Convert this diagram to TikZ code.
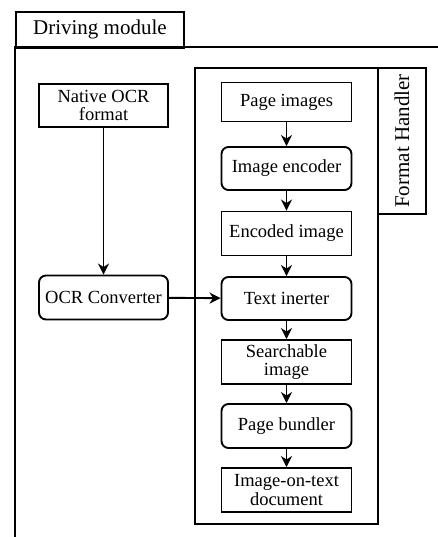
\documentclass[tikz,border=0pt]{standalone}
\usepackage{fontspec}
\setmainfont{Liberation Serif}
\usetikzlibrary{arrows.meta}
\begin{document}
\begin{tikzpicture}[x=1pt,y=-1pt,line width=1.9pt,
  boxstyle/.style={draw,rectangle,minimum width=130pt,minimum height=43pt,inner sep=1pt,align=center,font=\fontsize{18.5}{18.5}\selectfont},
  roundstyle/.style={boxstyle,rounded corners=7pt},
  arr/.style={-{Stealth[length=11pt,width=11pt,inset=3.5pt]}}]
\useasboundingbox (0,0) rectangle (438,537);
% driving module frame
\draw (15,537) -- (15,47) -- (438,47);
\node[draw,rectangle,minimum width=168pt,minimum height=36pt,anchor=north west,inner sep=0pt,font=\fontsize{21}{22}\selectfont] (drv) at (15,11) {Driving module};
% format handler
\node[draw,rectangle,minimum width=183pt,minimum height=456pt,anchor=north west,inner sep=0pt] (fh) at (194,67) {};
\node[draw,rectangle,minimum width=48pt,minimum height=146pt,anchor=north west,inner sep=0pt] (fhl) at (377,67) {};
\node[rotate=90,font=\fontsize{21}{22}\selectfont] (fhtext) at (fhl.center) {Format Handler};
% left side
\node[boxstyle,minimum width=129pt,minimum height=43pt] (native) at (103.5,105.5) {Native OCR\\format};
\node[roundstyle,minimum width=129pt,minimum height=44pt] (ocr) at (103.5,297.5) {OCR Converter};
% chain
\node[boxstyle,minimum height=39pt] (page) at (286.5,102) {Page images};
\node[roundstyle] (enc) at (286.5,168.5) {Image encoder};
\node[boxstyle,minimum height=44pt] (encimg) at (286.5,233.5) {Encoded image};
\node[roundstyle] (textin) at (286.5,298.5) {Text inerter};
\node[boxstyle,minimum height=44pt] (search) at (286.5,362) {Searchable\\image};
\node[roundstyle,minimum height=44pt] (bundler) at (286.5,426) {Page bundler};
\node[boxstyle,minimum height=44pt] (iot) at (286.5,490) {Image-on-text\\document};
% connectors
\draw[arr] (native) -- (ocr);
\draw[arr] (ocr) -- (textin);
\draw[arr] (page) -- (enc);
\draw[arr] (enc) -- (encimg);
\draw[arr] (encimg) -- (textin);
\draw[arr] (textin) -- (search);
\draw[arr] (search) -- (bundler);
\draw[arr] (bundler) -- (iot);
\end{tikzpicture}
\end{document}
